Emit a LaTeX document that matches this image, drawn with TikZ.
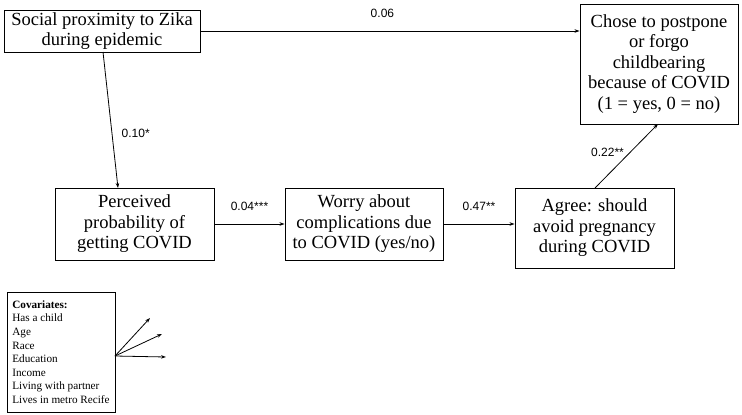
\documentclass[tikz,border=0pt]{standalone}
\usepackage{fontspec}
\setmainfont{Liberation Serif}
\newfontfamily\lblfont{Liberation Sans}
\usetikzlibrary{arrows.meta}
\begin{document}
\begin{tikzpicture}[x=1pt,y=-1pt,
  box/.style={draw,line width=0.9pt,align=center,inner sep=0pt,font=\fontsize{18.5}{20.5}\selectfont},
  lbl/.style={font=\lblfont\fontsize{12}{14}\selectfont},
  arr/.style={-{Stealth[length=5pt,width=3.5pt]},line width=0.8pt}]
\useasboundingbox (0,0) rectangle (742,415);
\node[box,minimum width=196pt,minimum height=42pt] (A) at (102,31) {Social proximity to Zika\\during epidemic};
\node[box,minimum width=158pt,minimum height=120pt] (F) at (659,64) {Chose to postpone\\or forgo\\childbearing\\because of COVID\\(1 = yes, 0 = no)};
\node[box,minimum width=159pt,minimum height=72pt] (B) at (134.5,224) {Perceived\\probability of\\getting COVID};
\node[box,minimum width=158pt,minimum height=72pt] (C) at (364,224) {Worry about\\complications due\\to COVID (yes/no)};
\node[box,minimum width=159pt,minimum height=80pt] (D) at (594.5,228) {Agree: should\\avoid pregnancy\\during COVID};
\node[draw,line width=0.9pt,align=left,inner sep=0pt,minimum width=108pt,minimum height=120pt,font=\fontsize{11.2}{13.6}\selectfont] (V) at (61,352) {\textbf{Covariates:}\\Has a child\\Age\\Race\\Education\\Income\\Living with partner\\Lives in metro Recife};
\coordinate (v1) at (150,318);
\coordinate (v2) at (162,334);
\coordinate (v3) at (166,357);
\coordinate (vs) at (115,356);
\draw[arr] (A.east) -- node[lbl,above=10pt,pos=0.48] {0.06} (A.east -| F.west);
\draw[arr] (103,52) -- node[lbl,right=6pt,pos=0.6] {0.10*} (118,188);
\draw[arr] (B.east) -- node[lbl,above=10pt] {0.04***} (C.west);
\draw[arr] (C.east) -- node[lbl,above=10pt] {0.47**} (C.east -| D.west);
\draw[arr] (595,188) -- node[lbl,left=2pt,pos=0.55] {0.22**} (658,124);
\draw[arr] (vs) -- (v1);
\draw[arr] (vs) -- (v2);
\draw[arr] (vs) -- (v3);
\end{tikzpicture}
\end{document}
